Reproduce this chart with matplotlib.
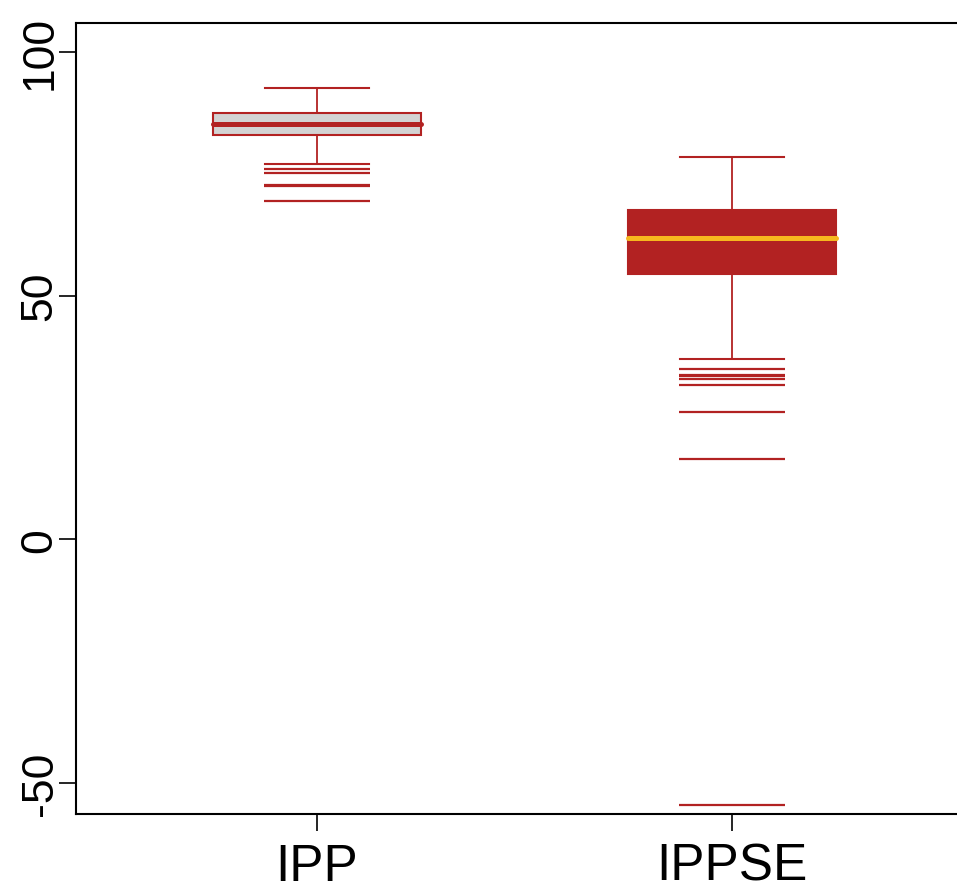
import matplotlib
matplotlib.use('Agg')
import matplotlib.pyplot as plt

# ---- data ----
labels = ['IPP', 'IPPSE']
q1 = [83.0, 54.4]
med = [85.2, 61.9]
q3 = [87.4, 67.6]
whislo = [77.0, 37.1]
whishi = [92.6, 78.5]
fliers_ipp = [76.0, 75.2, 72.6, 72.4, 69.3]
fliers_ippse = [34.9, 33.8, 33.6, 32.8, 31.6, 26.1, 16.5, -54.5]
fliers = [fliers_ipp, fliers_ippse]

red = '#B22222'
gold = '#F7B71E'

plt.rcParams['font.family'] = ['Liberation Sans', 'DejaVu Sans']

stats = []
for i in range(len(labels)):
    stats.append({'label': labels[i], 'q1': q1[i], 'med': med[i], 'q3': q3[i],
                  'whislo': whislo[i], 'whishi': whishi[i], 'fliers': fliers[i]})

fig = plt.figure(figsize=(9.57, 8.95), dpi=100)
ax = fig.add_axes([76 / 957, 1 - 815 / 895, 905 / 957, 791 / 895])

bp = ax.bxp(stats, positions=[1, 2], widths=0.5, capwidths=0.25, patch_artist=True,
            boxprops=dict(edgecolor=red, linewidth=1.5),
            whiskerprops=dict(color=red, linewidth=1.3),
            capprops=dict(color=red, linewidth=1.5),
            medianprops=dict(linewidth=3.6, solid_capstyle='round'),
            flierprops=dict(marker='_', markersize=76, markeredgewidth=1.6,
                            markeredgecolor=red, linestyle='none'))

# box colours differ per group
bp['boxes'][0].set_facecolor('#D3D3D3')
bp['boxes'][1].set_facecolor(red)
bp['medians'][0].set_color(red)
bp['medians'][1].set_color(gold)

ax.set_xlim(0.419, 2.6)
ax.set_ylim(-56.3, 105.9)
ax.set_yticks([-50, 0, 50, 100])
ax.set_yticklabels(['-50', '0', '50', '100'], rotation=90, va='center', fontsize=32)
ax.set_xticks([1, 2])
ax.set_xticklabels(labels, fontsize=37)
ax.tick_params(axis='y', length=12, width=1.2, pad=-1)
ax.tick_params(axis='x', length=12, width=1.2, pad=8)
for s in ['left', 'top', 'bottom', 'right']:
    ax.spines[s].set_linewidth(1.5)

fig.savefig('out.png', dpi=100)
